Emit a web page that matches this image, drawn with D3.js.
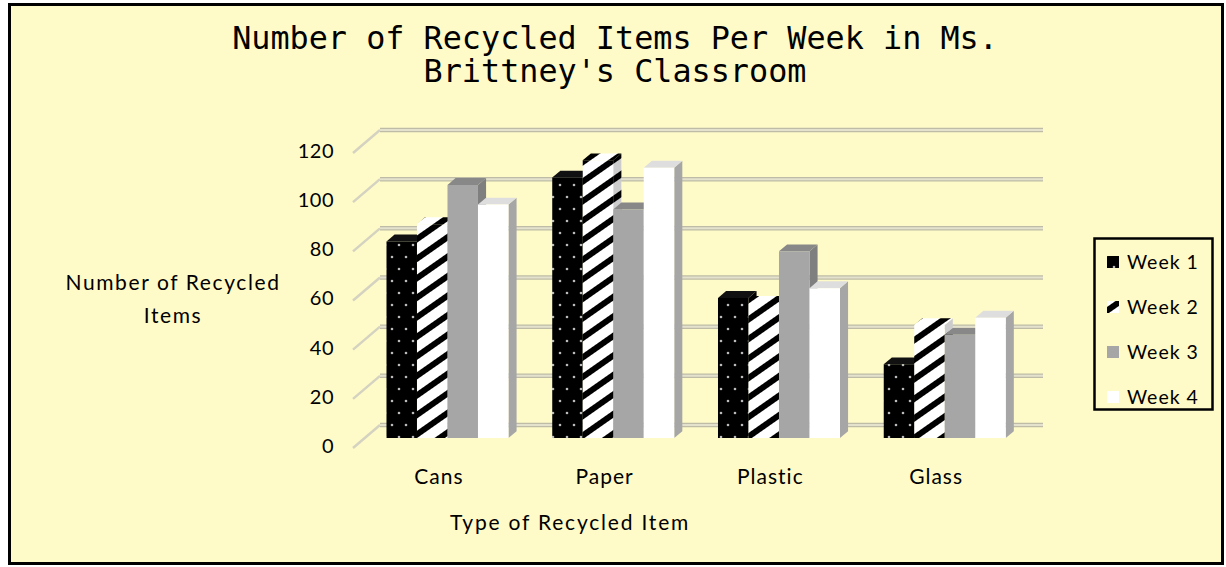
<!DOCTYPE html>
<html>
<head>
<meta charset="utf-8">
<script src="https://cdn.jsdelivr.net/npm/d3@7/dist/d3.min.js"></script>
<style>
  body { margin: 0; background: #ffffff; }
  text { font-family: Lato, "Open Sans", sans-serif; fill: #000; }
</style>
</head>
<body>
<svg id="chart" width="1226" height="567"></svg>
<script>
// values
const categories = ["Cans", "Paper", "Plastic", "Glass"];
const seriesNames = ["Week 1", "Week 2", "Week 3", "Week 4"];
const week1 = [80, 106, 57, 30];
const week2 = [87, 113, 55, 46];
const week3 = [103, 93, 76, 42];
const week4 = [95, 110, 61, 49];
const yTicks = [0, 20, 40, 60, 80, 100, 120];

const seriesValues = [week1, week2, week3, week4];

const svg = d3.select("#chart");

// oblique depth of the floor (front -> back wall)
const depthX = 27, depthY = 23;
const barFront = 0.43, barBack = 0.73;
const pt = function(x, y, d) { return [x + depthX * d, y - depthY * d]; };

const x0 = d3.scaleBand()
  .domain(categories)
  .range([353, 1016])
  .paddingInner(0.264)
  .paddingOuter(0.132);

const x1 = d3.scaleBand()
  .domain(seriesNames)
  .range([0, x0.bandwidth()]);

const y = d3.scaleLinear()
  .domain([0, 120])
  .range([448, 153]);

// chart area
svg.append("rect")
  .attr("x", 9.5)
  .attr("y", 4.5)
  .attr("width", 1213)
  .attr("height", 559)
  .attr("fill", "#fffbc8")
  .attr("stroke", "#000")
  .attr("stroke-width", 3);

// patterns
const defs = svg.append("defs");

const dots = defs.append("pattern")
  .attr("id", "dots")
  .attr("patternUnits", "userSpaceOnUse")
  .attr("width", 14)
  .attr("height", 24);
dots.append("rect").attr("width", 14).attr("height", 24).attr("fill", "#000");
[[7, 5], [0, 17], [14, 17]].forEach(function(p) {
  dots.append("circle")
    .attr("cx", p[0]).attr("cy", p[1]).attr("r", 1.3)
    .attr("fill", "#bbbbbb");
});

const hatch = defs.append("pattern")
  .attr("id", "hatch")
  .attr("patternUnits", "userSpaceOnUse")
  .attr("width", 16)
  .attr("height", 16)
  .attr("patternTransform", "rotate(-35)");
hatch.append("rect").attr("width", 16).attr("height", 16).attr("fill", "#fff");
hatch.append("rect").attr("width", 16).attr("height", 6).attr("fill", "#000");

const styles = {
  "Week 1": { front: "url(#dots)", side: "#000", top: "#111", legend: "url(#dots)" },
  "Week 2": { front: "url(#hatch)", side: "url(#hatch)", top: "url(#hatch)", legend: "url(#hatch)" },
  "Week 3": { front: "#a6a6a6", side: "#7f7f7f", top: "#888888", legend: "#a6a6a6" },
  "Week 4": { front: "#ffffff", side: "#a6a6a6", top: "#dedede", legend: "#ffffff" }
};

// title
svg.append("text")
  .attr("x", 615)
  .attr("text-anchor", "middle")
  .style("font-family", "'DejaVu Sans Mono', monospace")
  .style("font-size", "31.8px")
  .selectAll("tspan")
  .data(["Number of Recycled Items Per Week in Ms.", "Brittney's Classroom"])
  .enter()
  .append("tspan")
  .attr("x", 615)
  .attr("y", function(d, i) { return 49 + i * 32.5; })
  .text(function(d) { return d; });

// gridlines on the side and back walls
const gridLayer = svg.append("g");
gridLayer.selectAll(".side")
  .data(yTicks)
  .enter()
  .append("path")
  .attr("d", function(v) { return d3.line()([pt(353, y(v), 0), pt(353, y(v), 1)]); })
  .attr("fill", "none")
  .attr("stroke", "#d4d2c0")
  .attr("stroke-width", 2.5);
gridLayer.selectAll(".back")
  .data(yTicks)
  .enter()
  .append("path")
  .attr("d", function(v) { return d3.line()([pt(353, y(v), 1), [1043, y(v) - depthY]]); })
  .attr("fill", "none")
  .attr("stroke", "#bebca6")
  .attr("stroke-width", 4.5);
gridLayer.selectAll(".backHi")
  .data(yTicks)
  .enter()
  .append("path")
  .attr("d", function(v) { return d3.line()([pt(353, y(v), 1), [1043, y(v) - depthY]]); })
  .attr("fill", "none")
  .attr("stroke", "#e4e2cd")
  .attr("stroke-width", 2);

// bars
const rows = [];
categories.forEach(function(c, i) {
  seriesNames.forEach(function(s, j) {
    rows.push({ cat: c, series: s, value: seriesValues[j][i] });
  });
});

const poly = function(pts) { return d3.line()(pts) + "Z"; };

const bars = svg.append("g")
  .selectAll("g")
  .data(rows)
  .enter()
  .append("g");

bars.each(function(d) {
  const g = d3.select(this);
  const xl = x0(d.cat) + x1(d.series);
  const xr = xl + x1.bandwidth();
  const yt = y(d.value);
  const yb = y(0);
  const st = styles[d.series];
  const side = poly([pt(xr, yb, barFront), pt(xr, yb, barBack), pt(xr, yt, barBack), pt(xr, yt, barFront)]);

  g.append("path")
    .attr("d", side)
    .attr("fill", st.side);
  if (d.series == "Week 2") {
    g.append("path")
      .attr("d", side)
      .attr("fill", "#000")
      .attr("opacity", 0.2);
  }
  g.append("path")
    .attr("d", poly([pt(xl, yt, barFront), pt(xr, yt, barFront), pt(xr, yt, barBack), pt(xl, yt, barBack)]))
    .attr("fill", st.top);
  g.append("path")
    .attr("d", poly([pt(xl, yb, barFront), pt(xr, yb, barFront), pt(xr, yt, barFront), pt(xl, yt, barFront)]))
    .attr("fill", st.front);
});

// value axis labels
const yAxis = svg.append("g")
  .attr("transform", "translate(334,-2)")
  .call(d3.axisLeft(y).tickValues(yTicks).tickSize(0).tickPadding(0));
yAxis.select(".domain").remove();
yAxis.selectAll("text")
  .style("font-family", "Lato, sans-serif")
  .style("font-size", "20px")
  .style("letter-spacing", "0.5px")
  .attr("fill", "#000");

// category axis labels
const xAxis = svg.append("g")
  .attr("transform", "translate(3,469)")
  .call(d3.axisBottom(x0).tickSize(0).tickPadding(0));
xAxis.select(".domain").remove();
xAxis.selectAll("text")
  .style("font-family", "Lato, sans-serif")
  .style("font-size", "21px")
  .style("letter-spacing", "1px")
  .attr("fill", "#000");

// axis titles
svg.append("text")
  .attr("text-anchor", "middle")
  .style("font-size", "21px")
  .style("letter-spacing", "1.6px")
  .selectAll("tspan")
  .data(["Number of Recycled", "Items"])
  .enter()
  .append("tspan")
  .attr("x", 173)
  .attr("y", function(d, i) { return 290 + i * 33; })
  .text(function(d) { return d; });

svg.append("text")
  .attr("x", 570)
  .attr("y", 530)
  .attr("text-anchor", "middle")
  .style("font-size", "21px")
  .style("letter-spacing", "1.8px")
  .text("Type of Recycled Item");

// legend
const legend = svg.append("g");
legend.append("rect")
  .attr("x", 1094.5)
  .attr("y", 238.5)
  .attr("width", 118)
  .attr("height", 171)
  .attr("fill", "#fffbc8")
  .attr("stroke", "#000")
  .attr("stroke-width", 2.5);

const legendItems = legend.selectAll(".item")
  .data(seriesNames)
  .enter()
  .append("g")
  .attr("transform", function(d, i) { return "translate(1107," + (262 + i * 45) + ")"; });
legendItems.append("rect")
  .attr("x", 0)
  .attr("y", -6)
  .attr("width", 12)
  .attr("height", 12)
  .attr("fill", function(d) { return styles[d].legend; });
legendItems.append("text")
  .attr("x", 20)
  .attr("y", 7)
  .style("font-size", "19.5px")
  .style("letter-spacing", "1px")
  .text(function(d) { return d; });
</script>
</body>
</html>
